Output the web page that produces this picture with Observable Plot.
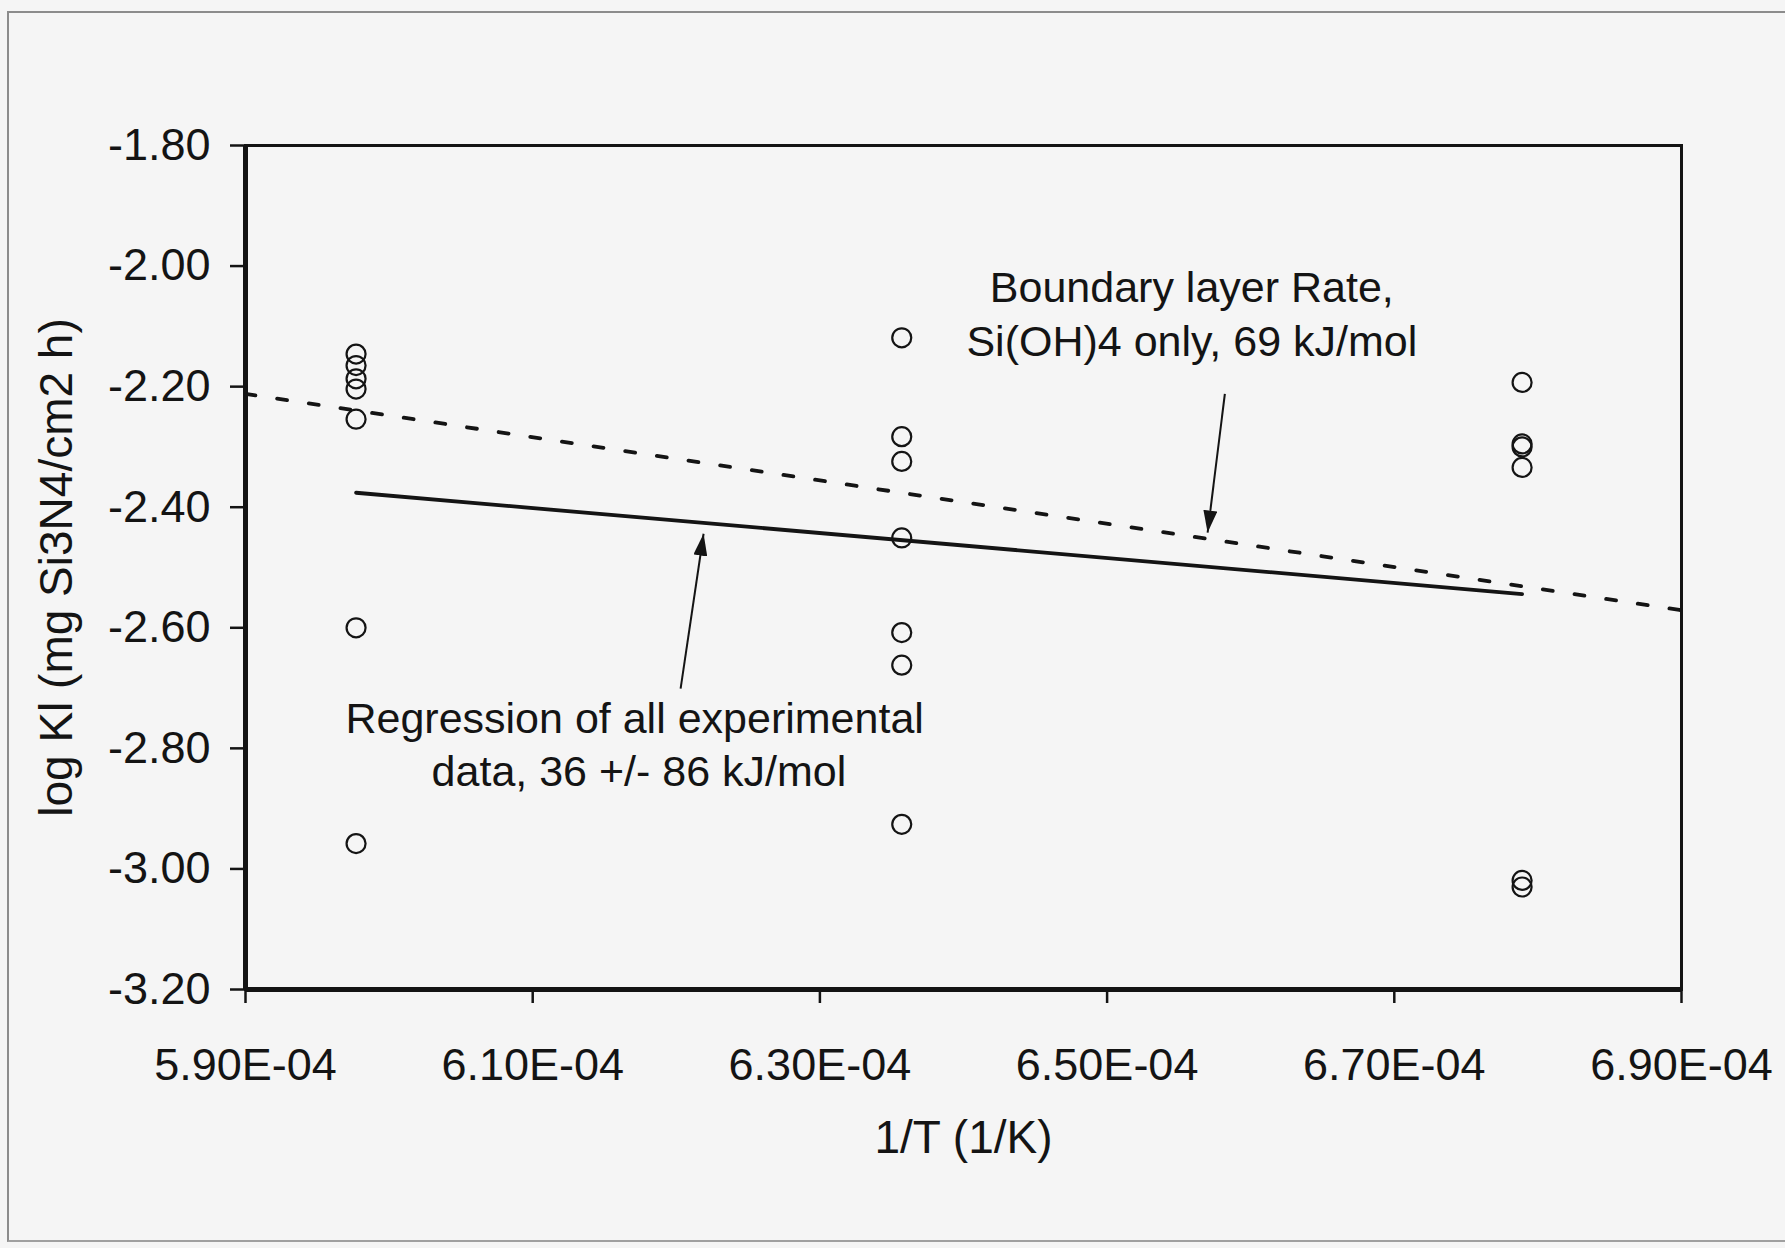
<!DOCTYPE html>
<html><head><meta charset="utf-8">
<script src="https://cdn.jsdelivr.net/npm/d3@7"></script>
<script src="https://cdn.jsdelivr.net/npm/@observablehq/plot@0.6"></script>
<style>
html,body{margin:0;padding:0;background:#f5f5f5;}
#wrap{position:relative;width:1785px;height:1248px;overflow:hidden;}
#border{position:absolute;left:7px;top:11px;width:1800px;height:1227px;border-left:2px solid #8c8c8c;border-top:2px solid #8c8c8c;border-bottom:2px solid #a0a0a0;}
#wrap svg{position:absolute;left:0;top:0;}
</style></head><body><div id="wrap"><div id="border"></div></div>
<script>
// Axis ticks
const xTicks = [5.9e-4, 6.1e-4, 6.3e-4, 6.5e-4, 6.7e-4, 6.9e-4];
const yTicks = [-1.8, -2.0, -2.2, -2.4, -2.6, -2.8, -3.0, -3.2];

// Experimental data: 1/T (1/K) and log Kl
const invT = [
  5.977e-4, 5.977e-4, 5.977e-4, 5.977e-4, 5.977e-4, 5.977e-4, 5.977e-4,
  6.357e-4, 6.357e-4, 6.357e-4, 6.357e-4, 6.357e-4, 6.357e-4, 6.357e-4,
  6.789e-4, 6.789e-4, 6.789e-4, 6.789e-4, 6.789e-4, 6.789e-4
];
const logKl = [
  -2.146, -2.165, -2.187, -2.204, -2.254, -2.600, -2.958,
  -2.119, -2.283, -2.324, -2.451, -2.608, -2.662, -2.926,
  -2.193, -2.295, -2.300, -2.334, -3.019, -3.030
];

// Regression line (solid) and boundary-layer line (dashed)
const regX = [5.977e-4, 6.789e-4];
const regY = [-2.376, -2.544];
const blX = [5.90e-4, 6.90e-4];
const blY = [-2.212, -2.571];

// Annotations
const noteText = ["Boundary layer Rate,", "Si(OH)4 only, 69 kJ/mol", "Regression of all experimental", "data, 36 +/- 86 kJ/mol"];
const noteX = [6.559e-4, 6.559e-4, 6.171e-4, 6.174e-4];
const noteY = [-2.036, -2.126, -2.752, -2.840];
const arrowFromX = [6.582e-4, 6.203e-4];
const arrowFromY = [-2.212, -2.701];
const arrowToX = [6.570e-4, 6.219e-4];
const arrowToY = [-2.442, -2.444];

const points = invT.map((x, i) => ({x, y: logKl[i]}));
const reg = regX.map((x, i) => ({x, y: regY[i]}));
const bl = blX.map((x, i) => ({x, y: blY[i]}));
const notes = noteText.map((t, i) => ({t, x: noteX[i], y: noteY[i]}));
const arrows = arrowFromX.map((x1, i) => ({x1, y1: arrowFromY[i], x2: arrowToX[i], y2: arrowToY[i]}));

const ink = "#141414";
const plot = Plot.plot({
  width: 1785, height: 1248,
  marginLeft: 245, marginRight: 104, marginTop: 145, marginBottom: 259,
  style: {background: "transparent", fontFamily: "'Liberation Sans', Arial, sans-serif", fontSize: "45px", color: ink},
  x: {domain: [5.9e-4, 6.9e-4]},
  y: {domain: [-3.2, -1.8]},
  marks: [
    Plot.axisX({ticks: xTicks, tickFormat: d => (d * 1e4).toFixed(2) + "E-04", tickSize: 14, tickPadding: 45, strokeWidth: 2.5, fontSize: 45, label: null}),
    Plot.axisY({ticks: yTicks, tickFormat: d => d.toFixed(2), tickSize: 15, tickPadding: 20, strokeWidth: 2.5, fontSize: 45, label: null}),
    Plot.frame({stroke: ink, strokeWidth: 3}),
    Plot.ruleX([xTicks[0]], {stroke: ink, strokeWidth: 5}),
    Plot.ruleY([yTicks[yTicks.length - 1]], {stroke: ink, strokeWidth: 5}),
    Plot.line(bl, {x: "x", y: "y", stroke: ink, strokeWidth: 3.8, strokeDasharray: "10,22"}),
    Plot.line(reg, {x: "x", y: "y", stroke: ink, strokeWidth: 3.8}),
    Plot.dot(points, {x: "x", y: "y", r: 9.5, stroke: ink, strokeWidth: 2.2, fill: "none"}),
    Plot.link(arrows, {x1: "x1", y1: "y1", x2: "x2", y2: "y2", stroke: ink, strokeWidth: 2}),
    Plot.text(notes, {x: "x", y: "y", text: "t", fontSize: 43, textAnchor: "middle", lineAnchor: "middle", fill: ink}),
    Plot.text(["1/T (1/K)"], {frameAnchor: "bottom", dy: 149, fontSize: 46, textAnchor: "middle", lineAnchor: "middle", fill: ink}),
    Plot.text(["log Kl (mg Si3N4/cm2 h)"], {frameAnchor: "left", dx: -188, rotate: -90, fontSize: 46, textAnchor: "middle", lineAnchor: "middle", fill: ink})
  ]
});

// filled arrowheads on the annotation links
const ns = "http://www.w3.org/2000/svg";
const defs = document.createElementNS(ns, "defs");
const marker = document.createElementNS(ns, "marker");
marker.setAttribute("id", "tri");
marker.setAttribute("viewBox", "0 0 22 14");
marker.setAttribute("refX", "22");
marker.setAttribute("refY", "7");
marker.setAttribute("markerWidth", "22");
marker.setAttribute("markerHeight", "14");
marker.setAttribute("markerUnits", "userSpaceOnUse");
marker.setAttribute("orient", "auto");
const tri = document.createElementNS(ns, "path");
tri.setAttribute("d", "M0,0L22,7L0,14Z");
tri.setAttribute("fill", ink);
tri.setAttribute("stroke", "none");
marker.appendChild(tri);
defs.appendChild(marker);
plot.insertBefore(defs, plot.firstChild);
plot.querySelectorAll('g[aria-label="link"] path, g[aria-label="link"] line').forEach(p => p.setAttribute("marker-end", "url(#tri)"));

document.getElementById("wrap").appendChild(plot);
</script>
</body></html>
